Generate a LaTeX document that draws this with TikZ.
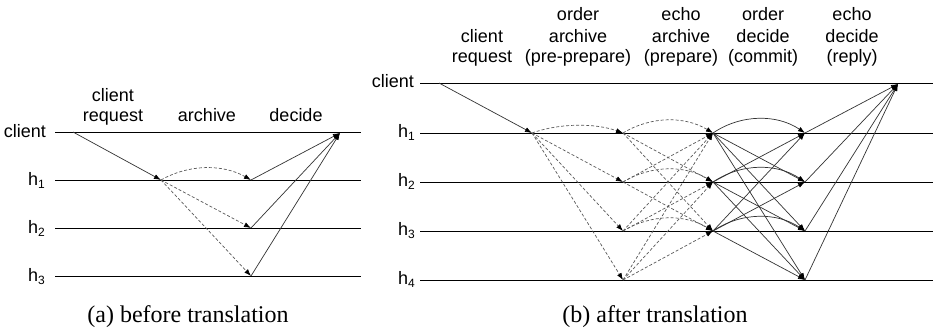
\documentclass[tikz,border=0pt]{standalone}
\usepackage{fontspec}
\setmainfont{Liberation Sans}
\newfontfamily\capfont{Liberation Serif}
\usetikzlibrary{arrows.meta}
\newcommand\lsub[1]{\raisebox{-3.5pt}{\fontsize{12}{12}\selectfont #1}}
\begin{document}
\begin{tikzpicture}[x=1pt,y=-1pt,
  tl/.style={draw=black, line width=0.9pt},
  msg/.style={draw=black!80, line width=0.7pt, -{Latex[length=7pt,width=5pt,color=black]}},
  dmsg/.style={msg, draw=black!65, dash pattern=on 3pt off 2pt},
  lab/.style={anchor=base, inner sep=0pt, font=\fontsize{18}{20}\selectfont},
  rlab/.style={anchor=base east, inner sep=0pt, font=\fontsize{18}{20}\selectfont},
  captxt/.style={anchor=base, inner sep=0pt, font=\capfont\fontsize{24}{26}\selectfont}]
\useasboundingbox (0,0) rectangle (933,329);
\fill[white] (0,0) rectangle (933,329);

% ---------- panel (a) ----------
\foreach \i/\y in {0/132,1/180,2/228,3/276} {
  \coordinate (aL\i) at (55,\y);
  \coordinate (aR\i) at (361,\y);
  \draw[tl] (aL\i) -- (aR\i);
}
\node[rlab] (la0) at (46,137) {client};
\node[rlab] (la1) at (45,185) {h\lsub{1}};
\node[rlab] (la2) at (45,233) {h\lsub{2}};
\node[rlab] (la3) at (45,281) {h\lsub{3}};

\node[lab] (ta1) at (113,101) {client};
\node[lab] (ta2) at (113,121) {request};
\node[lab] (ta3) at (207,121) {archive};
\node[lab] (ta4) at (296,121) {decide};

\coordinate (a0s) at (73,132);
\coordinate (a1r) at (161,180);
\coordinate (a1e) at (251,180);
\coordinate (a2e) at (251,228);
\coordinate (a3e) at (251,276);
\coordinate (ac) at (340,133);

\draw[msg] (a0s) -- (a1r);
\draw[dmsg] (a1r) .. controls +(28,-16) and +(-28,-16) .. (a1e);
\draw[dmsg] (a1r) -- (a2e);
\draw[dmsg] (a1r) -- (a3e);
\draw[msg] (a1e) -- (ac);
\draw[msg] (a2e) -- (ac);
\draw[msg] (a3e) -- (ac);

% ---------- panel (b) ----------
\foreach \i/\y in {0/83,1/133,2/182,3/231,4/280} {
  \coordinate (bL\i) at (420,\y);
  \coordinate (bR\i) at (933,\y);
  \draw[tl] (bL\i) -- (bR\i);
}
\node[rlab] (lb0) at (414,87) {client};
\node[rlab] (lb1) at (415,137) {h\lsub{1}};
\node[rlab] (lb2) at (415,186) {h\lsub{2}};
\node[rlab] (lb3) at (415,235) {h\lsub{3}};
\node[rlab] (lb4) at (415,284) {h\lsub{4}};

\node[lab] (tb1) at (482,42) {client};
\node[lab] (tb2) at (482,63) {request};
\node[lab] (tb3) at (578,21) {order};
\node[lab] (tb4) at (578,42) {archive};
\node[lab] (tb5) at (578,63) {(pre-prepare)};
\node[lab] (tb6) at (681,21) {echo};
\node[lab] (tb7) at (681,42) {archive};
\node[lab] (tb8) at (681,63) {(prepare)};
\node[lab] (tb9) at (763,21) {order};
\node[lab] (tb10) at (763,42) {decide};
\node[lab] (tb11) at (763,63) {(commit)};
\node[lab] (tb12) at (852,21) {echo};
\node[lab] (tb13) at (852,42) {decide};
\node[lab] (tb14) at (852,63) {(reply)};

\coordinate (b0s) at (439,83);
\coordinate (P1) at (532,133);
\coordinate (C) at (898,84);
\foreach \i/\y in {1/133,2/182,3/231,4/280} {
  \coordinate (Q\i) at (623,\y);
  \coordinate (S\i) at (805,\y);
}
\foreach \i/\y in {1/133,2/182,3/231} {
  \coordinate (R\i) at (713,\y);
}

\draw[msg] (b0s) -- (P1);
\draw[dmsg] (P1) .. controls +(28,-10) and +(-28,-10) .. (Q1);
\draw[dmsg] (P1) -- (Q2);
\draw[dmsg] (P1) -- (Q3);
\draw[dmsg] (P1) -- (Q4);

\foreach \i in {1,2,3,4} {
  \foreach \j in {1,2,3} {
    \ifnum\i=\j
      \draw[dmsg] (Q\i) .. controls +(28,-17) and +(-28,-17) .. (R\j);
    \else
      \draw[dmsg] (Q\i) -- (R\j);
    \fi
  }
}
\foreach \i in {1,2,3} {
  \foreach \j in {1,2,3,4} {
    \ifnum\i=\j
      \draw[msg] (R\i) .. controls +(28,-19) and +(-28,-19) .. (S\j);
    \else
      \draw[msg] (R\i) -- (S\j);
    \fi
  }
}
\foreach \j in {1,2,3,4} {
  \draw[msg] (S\j) -- (C);
}

% ---------- captions ----------
\node[captxt] (capa) at (188,322) {(a) before translation};
\node[captxt] (capb) at (655,322) {(b) after translation};
\end{tikzpicture}
\end{document}
